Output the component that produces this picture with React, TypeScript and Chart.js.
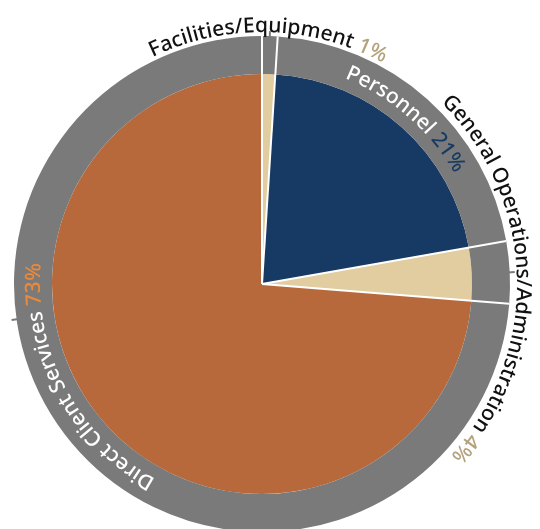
import React, { useEffect, useRef } from "react";
import { Chart, registerables } from "chart.js";

Chart.register(...registerables);

// ---- data ----
const categories = [
  "Facilities/Equipment",
  "Personnel",
  "General Operations/Administration",
  "Direct Client Services",
];
const values = [1, 21, 4, 73];
const percentLabels = values.map((v) => `${v}%`);

// ---- styles ----
const sliceColors = ["#E1CD9F", "#163A63", "#E1CD9F", "#B8693B"];
const ringColor = "#7A7A7A";
const nameColors = ["#111111", "#FFFFFF", "#111111", "#FFFFFF"];
const pctColors = ["#B3A27C", "#163A63", "#B3A27C", "#EC8A3A"];

// ---- label layout (degrees clockwise from top, baseline radius in px) ----
const labelAngles = [1.5, 41, 88.5, 242];
const labelRadii = [252, 222, 255, 222];
const labelWeights = [500, 500, 500, 500];
const tickAngles = [1.8, 87.3, 261.8];

const fontFor = (i: number) => `${labelWeights[i]} 21px "Noto Sans", "DejaVu Sans", sans-serif`;

const ringPlugin = {
  id: "ringDecor",
  afterDatasetsDraw(chart: any) {
    const ctx: CanvasRenderingContext2D = chart.ctx;
    const pieMeta = chart.getDatasetMeta(1);
    const ringMeta = chart.getDatasetMeta(0);
    if (!pieMeta.data.length) return;
    const cx = pieMeta.data[0].x;
    const cy = pieMeta.data[0].y;
    const outerR = ringMeta.data[0].outerRadius;

    ctx.save();
    ctx.strokeStyle = "#FFFFFF";
    ctx.lineWidth = 2;
    pieMeta.data.forEach((a: any) => {
      const ang = a.startAngle;
      ctx.beginPath();
      ctx.moveTo(cx, cy);
      ctx.lineTo(cx + outerR * Math.cos(ang), cy + outerR * Math.sin(ang));
      ctx.stroke();
    });

    ctx.strokeStyle = ringColor;
    ctx.lineWidth = 2;
    tickAngles.forEach((d) => {
      const a = ((d - 90) * Math.PI) / 180;
      ctx.beginPath();
      ctx.moveTo(cx + (outerR - 2) * Math.cos(a), cy + (outerR - 2) * Math.sin(a));
      ctx.lineTo(cx + (outerR + 5) * Math.cos(a), cy + (outerR + 5) * Math.sin(a));
      ctx.stroke();
    });

    ctx.textAlign = "center";
    ctx.textBaseline = "alphabetic";
    categories.forEach((name, i) => {
      ctx.font = fontFor(i);
      const parts = [
        { text: name + " ", color: nameColors[i] },
        { text: percentLabels[i], color: pctColors[i] },
      ];
      const chars: { ch: string; color: string; w: number }[] = [];
      parts.forEach((p) => {
        for (const ch of p.text) {
          chars.push({ ch, color: p.color, w: ctx.measureText(ch).width });
        }
      });
      const total = chars.reduce((s, c) => s + c.w, 0);
      const r = labelRadii[i];
      const center = ((labelAngles[i] - 90) * Math.PI) / 180;
      let acc = 0;
      const start = center - total / 2 / r;
      chars.forEach((c) => {
        const a = start + (acc + c.w / 2) / r;
        acc += c.w;
        ctx.save();
        ctx.translate(cx + r * Math.cos(a), cy + r * Math.sin(a));
        ctx.rotate(a + Math.PI / 2);
        ctx.fillStyle = c.color;
        ctx.fillText(c.ch, 0, 0);
        ctx.restore();
      });
    });
    ctx.restore();
  },
};

export default function App() {
  const ref = useRef<HTMLCanvasElement | null>(null);
  useEffect(() => {
    if (!ref.current) return;
    const chart = new Chart(ref.current, {
      type: "pie",
      data: {
        labels: categories,
        datasets: [
          {
            data: values,
            backgroundColor: values.map(() => ringColor),
            borderWidth: 0,
            weight: 38,
            radius: 248,
            clip: false,
          } as any,
          {
            data: values,
            backgroundColor: sliceColors,
            borderWidth: 0,
            weight: 210,
            radius: 248,
            clip: false,
          } as any,
        ],
      },
      options: {
        responsive: false,
        animation: false,
        layout: { padding: { left: 0, right: 16, top: 31, bottom: 0 } },
        plugins: { legend: { display: false }, tooltip: { enabled: false } },
      } as any,
      plugins: [ringPlugin],
    });
    return () => chart.destroy();
  }, []);
  return (
    <div style={{ width: 524, height: 521 }}>
      <canvas ref={ref} width={524} height={521} style={{ display: "block" }} />
    </div>
  );
}
